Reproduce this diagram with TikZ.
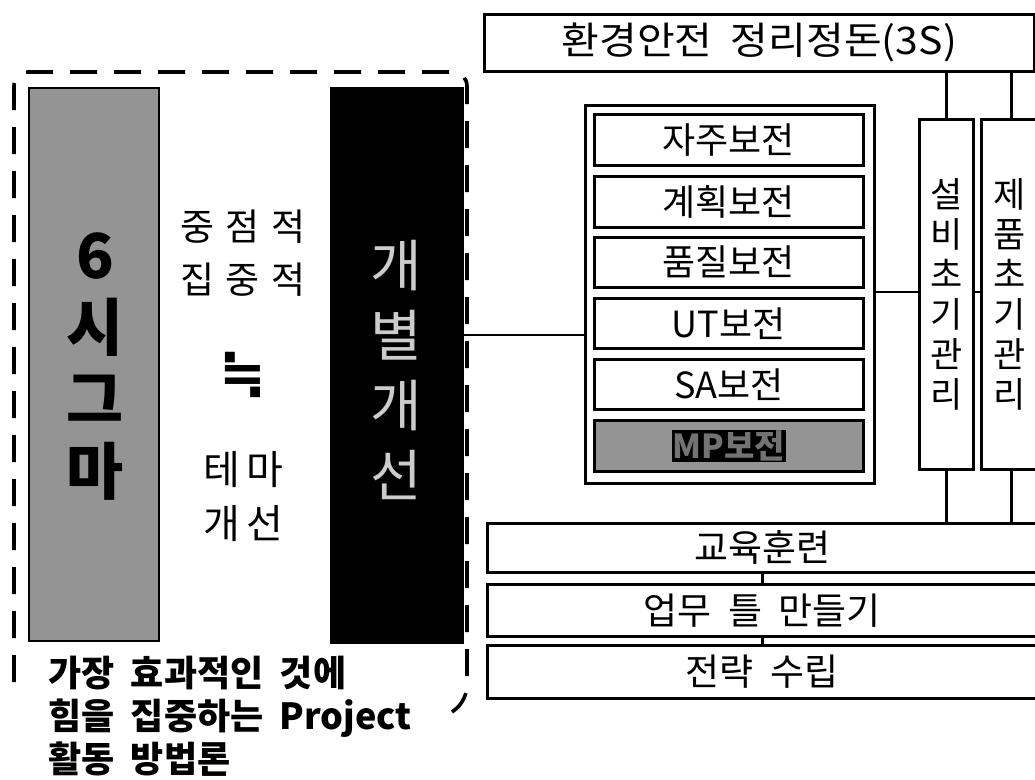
\documentclass[tikz,border=0pt]{standalone}
\usepackage{fontspec}
\setmainfont{Noto Sans CJK KR}[WordSpace=2]
\newfontfamily\widefont{Noto Sans CJK KR}[WordSpace=2, FakeStretch=1.08]
\newfontfamily\symfont{DejaVu Sans}
\tikzset{
  box/.style={draw=black, line width=2.6pt, inner sep=0pt, anchor=north west},
  txt/.style={font=\fontsize{36pt}{40pt}\selectfont, inner sep=0pt},
  vtxt/.style={font=\fontsize{35pt}{40pt}\selectfont, inner sep=0pt, align=center},
  link/.style={draw=black, line width=2.4pt},
  frame/.style={draw=black, line width=3.6pt, dash pattern=on 27pt off 17pt, rounded corners=14pt},
}
\begin{document}
\begin{tikzpicture}[x=1pt,y=-1pt]
\useasboundingbox (0,0) rectangle (1035,779);
\clip (0,0) rectangle (1035,779);
% ---------- left part ----------
\draw[frame] (14,682) -- (14,72) -- (467,72) -- (467,700) -- (452,712);
\node[box, line width=1.5pt, fill=black!42, minimum width=130pt, minimum height=553pt] (sigma) at (28,87) {};
\node[box, line width=1.5pt, fill=black, minimum width=132pt, minimum height=555pt] (kaizen) at (330,87) {};
\node[inner sep=0pt, align=center, font=\fontsize{62pt}{72pt}\bfseries\selectfont] (sigmat) at (95,366) {6\\시\\그\\마};
\node[inner sep=0pt, align=center, text=white!80!black, font=\fontsize{56pt}{70pt}\selectfont] (kaizent) at (396,370) {개\\별\\개\\선};
\node[txt, align=center, font=\fontsize{37pt}{53pt}\selectfont] (focus) at (243,253) {중\hspace{11pt}점\hspace{11pt}적\\집\hspace{11pt}중\hspace{11pt}적};
\node[inner sep=0pt, font=\fontsize{56pt}{58pt}\symfont\bfseries\selectfont] (approx) at (243,375) {≒};
\node[txt, align=center, font=\fontsize{40pt}{54pt}\selectfont] (theme) at (243,497) {테\hspace{6pt}마\\개\hspace{6pt}선};
\node[txt, align=left, anchor=west, font=\fontsize{36pt}{43pt}\bfseries\selectfont] (desc) at (48,716) {가장 효과적인 것에\\힘을 집중하는 Project\\활동 방법론};
% ---------- right part ----------
\node[box, minimum width=550pt, minimum height=57pt] (env) at (483,13) {};
\node[txt, font=\fontsize{38pt}{40pt}\widefont\selectfont] (envt) at (env.center) {환경안전 정리정돈(3S)};
\node[box, minimum width=289pt, minimum height=378pt] (outer) at (584,104) {};
\node[box, minimum width=269pt, minimum height=51pt] (m1) at (593,113) {};
\node[box, minimum width=269pt, minimum height=51pt] (m2) at (593,175) {};
\node[box, minimum width=269pt, minimum height=50pt] (m3) at (593,236) {};
\node[box, minimum width=269pt, minimum height=50pt] (m4) at (593,297) {};
\node[box, minimum width=269pt, minimum height=50pt] (m5) at (593,358) {};
\node[box, fill=black!42, minimum width=269pt, minimum height=51pt] (m6) at (593,419) {};
\node[txt] (t1) at (m1.center) {자주보전};
\node[txt] (t2) at (m2.center) {계획보전};
\node[txt] (t3) at (m3.center) {품질보전};
\node[txt] (t4) at (m4.center) {UT보전};
\node[txt] (t5) at (m5.center) {SA보전};
\node[txt, fill=black, text=black!55, inner sep=1pt, font=\fontsize{33pt}{36pt}\bfseries\selectfont] (t6) at (m6.center) {MP보전};
\node[box, minimum width=54pt, minimum height=350pt] (seolbi) at (918,118) {};
\node[box, minimum width=60pt, minimum height=350pt] (jepum) at (980,118) {};
\node[vtxt] (sbt) at (seolbi.center) {설\\비\\초\\기\\관\\리};
\node[vtxt] (jpt) at ([xshift=-2pt]jepum.center) {제\\품\\초\\기\\관\\리};
\node[box, minimum width=554pt, minimum height=49pt] (edu) at (486,522) {};
\node[box, minimum width=554pt, minimum height=52pt] (work) at (486,583) {};
\node[box, minimum width=554pt, minimum height=53pt] (strat) at (486,644) {};
\node[txt, font=\fontsize{37pt}{40pt}\selectfont] (edut) at ([xshift=-2pt]edu.center) {교육훈련};
\node[txt, font=\fontsize{37pt}{40pt}\selectfont] (workt) at ([xshift=-2pt]work.center) {업무 틀 만들기};
\node[txt, font=\fontsize{37pt}{40pt}\selectfont] (stratt) at ([xshift=-2pt]strat.center) {전략 수립};
% ---------- connectors ----------
\coordinate (ya) at (0,335);
\coordinate (yb) at (0,292);
\draw[link] (kaizen.east |- ya) -- (outer.west |- ya);
\draw[link] (outer.east |- yb) -- (seolbi.west |- yb);
\draw[link] (seolbi.east |- yb) -- (jepum.west |- yb);
\draw[link] (env.south -| seolbi.north) -- (seolbi.north);
\draw[link] (env.south -| jepum.north) -- (jepum.north);
\draw[link] (seolbi.south) -- (seolbi.south |- edu.north);
\draw[link] (jepum.south) -- (jepum.south |- edu.north);
\draw[link] ([xshift=-2pt]edu.south) -- ([xshift=-2pt]work.north);
\draw[link] ([xshift=-2pt]work.south) -- ([xshift=-2pt]strat.north);
\end{tikzpicture}
\end{document}
